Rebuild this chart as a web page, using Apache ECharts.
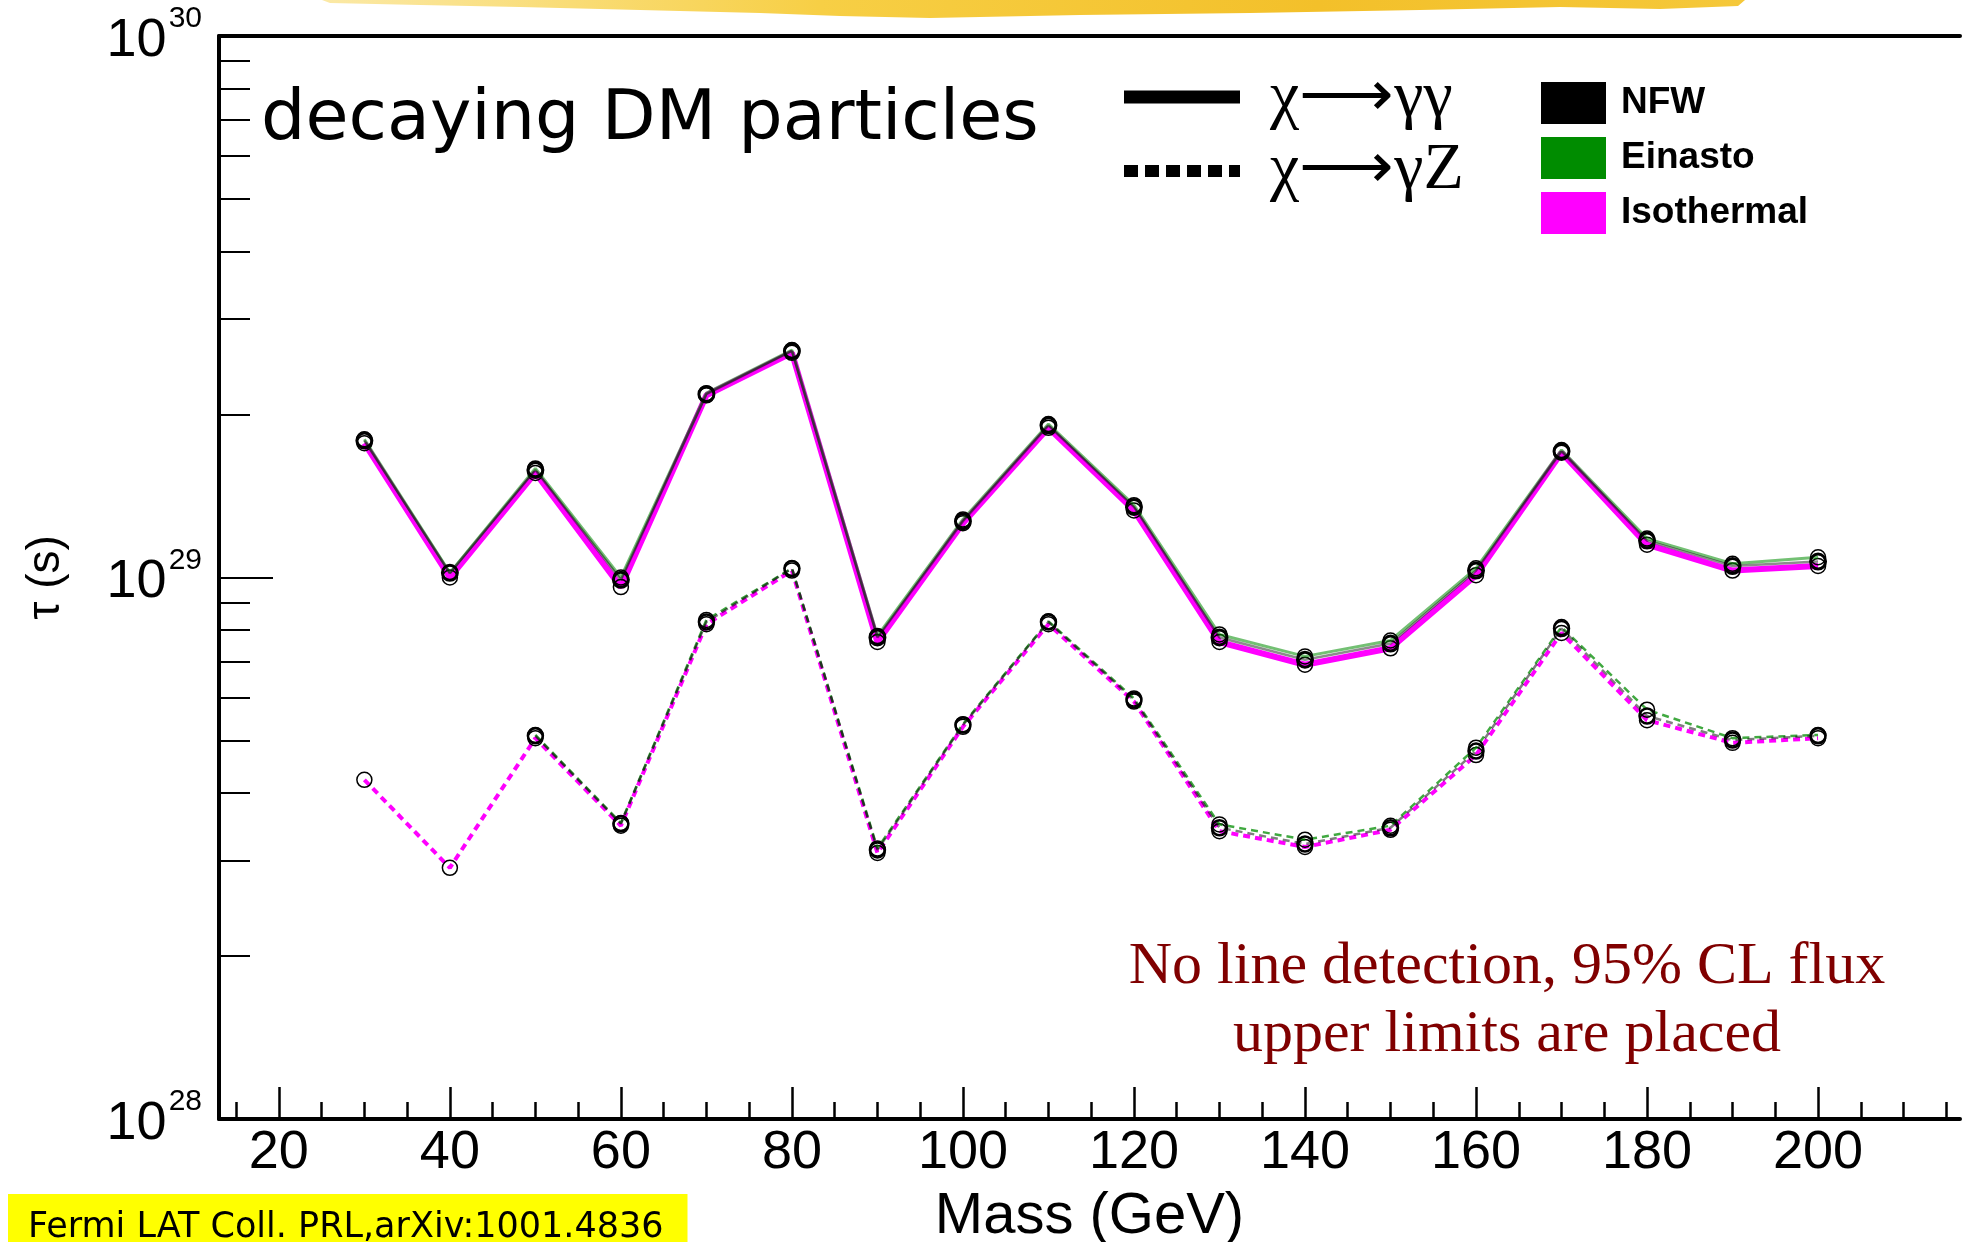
<!DOCTYPE html>
<html>
<head>
<meta charset="utf-8">
<title>Decaying DM lifetime limits</title>
<script src="https://cdn.jsdelivr.net/npm/echarts@6/dist/echarts.min.js"></script>
<style>
  html, body { margin: 0; padding: 0; background: #fff; }
  #chart { width: 1963px; height: 1242px; }
</style>
</head>
<body>
<div id="chart"></div>
<script>
// Dark matter mass (GeV)
const masses = [30, 40, 50, 60, 70, 80, 90, 100, 110, 120, 130, 140, 150, 160, 170, 180, 190, 200];

// Lifetime lower limits tau (s), chi -> gamma gamma
const nfwGG = [1.79e29, 1.02e29, 1.58e29, 0.99e29, 2.18e29, 2.62e29, 0.775e29, 1.27e29, 1.91e29, 1.35e29, 0.775e29, 0.705e29, 0.755e29, 1.03e29, 1.71e29, 1.17e29, 1.05e29, 1.07e29];
const einastoGG = [1.80e29, 1.02e29, 1.59e29, 1.00e29, 2.19e29, 2.63e29, 0.78e29, 1.28e29, 1.92e29, 1.36e29, 0.785e29, 0.715e29, 0.765e29, 1.04e29, 1.72e29, 1.18e29, 1.06e29, 1.09e29];
const isothermalGG = [1.77e29, 1.00e29, 1.56e29, 0.96e29, 2.17e29, 2.60e29, 0.76e29, 1.26e29, 1.89e29, 1.33e29, 0.76e29, 0.69e29, 0.74e29, 1.01e29, 1.70e29, 1.15e29, 1.03e29, 1.05e29];

// Lifetime lower limits tau (s), chi -> gamma Z
const nfwGZ = [null, null, 5.10e28, 3.51e28, 8.28e28, 10.39e28, 3.14e28, 5.34e28, 8.28e28, 5.94e28, 3.45e28, 3.22e28, 3.45e28, 4.78e28, 8.05e28, 5.55e28, 5.01e28, 5.10e28];
const einastoGZ = [null, null, 5.12e28, 3.52e28, 8.35e28, 10.4e28, 3.16e28, 5.36e28, 8.30e28, 5.98e28, 3.50e28, 3.28e28, 3.48e28, 4.85e28, 8.10e28, 5.70e28, 5.05e28, 5.12e28];
const isothermalGZ = [4.23e28, 2.91e28, 5.05e28, 3.48e28, 8.20e28, 10.3e28, 3.10e28, 5.30e28, 8.20e28, 5.90e28, 3.40e28, 3.18e28, 3.42e28, 4.70e28, 7.90e28, 5.45e28, 4.95e28, 5.05e28];

// Axis ticks
const xLabelTicks = [20, 40, 60, 80, 100, 120, 140, 160, 180, 200];
const xMinorTicks = [15, 25, 30, 35, 45, 50, 55, 65, 70, 75, 85, 90, 95, 105, 110, 115, 125, 130, 135, 145, 150, 155, 165, 170, 175, 185, 190, 195, 205, 210, 215];
const yMajorTicks = [1e28, 1e29, 1e30];
const yMinorTicks = [2e28, 3e28, 4e28, 5e28, 6e28, 7e28, 8e28, 9e28, 2e29, 3e29, 4e29, 5e29, 6e29, 7e29, 8e29, 9e29];

const profileNames = ['NFW', 'Einasto', 'Isothermal'];
const profileColors = ['#000000', '#008c00', '#ff00ff'];

const pairs = (ys) => masses.map((m, i) => [m, ys[i]]);

const chart = echarts.init(document.getElementById('chart'), null, { renderer: 'canvas' });

const markerStyle = (bw) => ({
  color: 'rgba(0,0,0,0)',
  borderColor: '#000',
  borderWidth: bw
});

function lineSeries(name, ys, color, width, dashed, opacity, markerBw, z) {
  return {
    name: name,
    type: 'line',
    xAxisIndex: 0,
    yAxisIndex: 0,
    data: pairs(ys),
    connectNulls: false,
    symbol: 'circle',
    symbolSize: 15,
    showSymbol: true,
    itemStyle: markerStyle(markerBw),
    lineStyle: {
      color: color,
      width: width,
      opacity: opacity,
      type: dashed ? [7, 5] : 'solid'
    },
    emphasis: { disabled: true },
    animation: false,
    z: z
  };
}

const series = [
  lineSeries('Isothermal', isothermalGG, profileColors[2], 6, false, 1, 1.5, 2),
  lineSeries('Einasto', einastoGG, profileColors[1], 3, false, 0.55, 1.5, 3),
  lineSeries('NFW', nfwGG, profileColors[0], 2.5, false, 0.45, 3, 4),
  lineSeries('Isothermal', isothermalGZ, profileColors[2], 4, true, 1, 1.5, 2),
  lineSeries('Einasto', einastoGZ, profileColors[1], 2.5, true, 0.75, 1.5, 3),
  lineSeries('NFW', nfwGZ, profileColors[0], 2.5, true, 0.5, 2.5, 4)
];

// Horizontal range of the frame; vertical range is two decades
const X_MIN = 13, X_MAX = 216.6;
const Y_MIN = 1e28, Y_MAX = 1.000001e30;

const option = {
  backgroundColor: '#ffffff',
  animation: false,
  grid: { left: 219, top: 36, right: 3, bottom: 123, containLabel: false, outerBoundsMode: 'none' },
  title: [
    {
      text: 'decaying DM particles',
      left: 256, top: 81,
      textStyle: { fontFamily: 'DejaVu Sans', fontSize: 70, fontWeight: 'normal', color: '#000' }
    },
    {
      text: 'No line detection, 95% CL flux\nupper limits are placed',
      left: 1502, top: 928,
      textAlign: 'center',
      textStyle: { fontFamily: 'Liberation Serif', fontSize: 60, fontWeight: 'normal', color: '#800000', lineHeight: 68, align: 'center' }
    },
    {
      text: 'Fermi LAT Coll. PRL,arXiv:1001.4836',
      left: 8, top: 1194,
      padding: [16, 24, 20, 20],
      backgroundColor: '#ffff00',
      textStyle: { fontFamily: 'DejaVu Sans', fontSize: 35, fontWeight: 'normal', color: '#000' }
    }
  ],
  legend: {
    orient: 'vertical',
    left: 1536, top: 77,
    itemWidth: 65, itemHeight: 42, itemGap: 13,
    icon: 'rect',
    selectedMode: false,
    textStyle: { fontFamily: 'Liberation Sans', fontSize: 37, fontWeight: 'bold', color: '#000', padding: [0, 0, 0, 10] },
    data: profileNames.map((n, i) => ({
      name: n,
      icon: 'rect',
      itemStyle: { color: profileColors[i], borderWidth: 0, opacity: 1 },
      lineStyle: { width: 0 }
    }))
  },
  xAxis: [
    {
      type: 'value', position: 'bottom', min: X_MIN, max: X_MAX,
      name: 'Mass (GeV)', nameLocation: 'middle', nameGap: 69,
      nameTextStyle: { fontFamily: 'Liberation Sans', fontSize: 58, color: '#000' },
      axisLine: { show: true, onZero: false, lineStyle: { color: '#000', width: 4 } },
      axisTick: { show: true, inside: true, length: 17, customValues: xMinorTicks, lineStyle: { color: '#000', width: 2.5 } },
      axisLabel: { show: true, customValues: xLabelTicks, margin: 7, fontFamily: 'Liberation Sans', fontSize: 54, color: '#000' },
      splitLine: { show: false }
    },
    {
      type: 'value', position: 'bottom', min: X_MIN, max: X_MAX,
      axisLine: { show: false, onZero: false },
      axisTick: { show: true, inside: true, length: 32, customValues: xLabelTicks, lineStyle: { color: '#000', width: 2.5 } },
      axisLabel: { show: false },
      splitLine: { show: false }
    },
    {
      type: 'value', position: 'top', min: X_MIN, max: X_MAX,
      axisLine: { show: true, onZero: false, lineStyle: { color: '#000', width: 4 } },
      axisTick: { show: false },
      axisLabel: { show: false },
      splitLine: { show: false }
    }
  ],
  yAxis: [
    {
      type: 'log', logBase: 10, position: 'left', min: Y_MIN, max: Y_MAX,
      name: 'τ (s)', nameLocation: 'middle', nameGap: 150, nameRotate: 90,
      nameTextStyle: { fontFamily: 'Liberation Sans', fontSize: 46, color: '#000' },
      axisLine: { show: true, onZero: false, lineStyle: { color: '#000', width: 4 } },
      axisTick: { show: true, inside: true, length: 54, customValues: yMajorTicks, lineStyle: { color: '#000', width: 2 } },
      axisLabel: {
        show: true, customValues: yMajorTicks, margin: 17,
        showMinLabel: true, showMaxLabel: true, hideOverlap: false,
        formatter: (v) => '{b|10}{s|' + Math.round(Math.log10(v)) + '}',
        rich: {
          b: { fontFamily: 'Liberation Sans', fontSize: 54, color: '#000', lineHeight: 64, verticalAlign: 'bottom' },
          s: { fontFamily: 'Liberation Sans', fontSize: 30, color: '#000', verticalAlign: 'top', padding: [0, 0, 0, 2] }
        }
      },
      splitLine: { show: false }
    },
    {
      type: 'log', logBase: 10, position: 'left', min: Y_MIN, max: Y_MAX,
      axisLine: { show: false, onZero: false },
      axisTick: { show: true, inside: true, length: 31, customValues: yMinorTicks, lineStyle: { color: '#000', width: 2 } },
      axisLabel: { show: false },
      splitLine: { show: false }
    }
  ],
  graphic: [
    // yellow brush stroke along the top of the slide
    {
      type: 'polygon',
      z: 0,
      shape: {
        points: [[322, 0], [1745, 0], [1738, 6], [1660, 9], [1560, 7], [1420, 10], [1250, 13], [1080, 15], [930, 18], [840, 16], [760, 13], [640, 10], [520, 7], [420, 5], [330, 3]]
      },
      style: {
        fill: {
          type: 'linear', x: 0, y: 0, x2: 1, y2: 0,
          colorStops: [
            { offset: 0, color: '#fbe9a6' },
            { offset: 0.35, color: '#f7cf45' },
            { offset: 0.7, color: '#f3c02a' },
            { offset: 1, color: '#f5c83a' }
          ]
        }
      }
    },
    // line style key: chi -> gamma gamma (solid) and chi -> gamma Z (dashed)
    {
      type: 'line', z: 10,
      shape: { x1: 1124, y1: 97, x2: 1240, y2: 97 },
      style: { stroke: '#000', lineWidth: 13 }
    },
    {
      type: 'line', z: 10,
      shape: { x1: 1124, y1: 171, x2: 1240, y2: 171 },
      style: { stroke: '#000', lineWidth: 12, lineDash: [14, 7] }
    },
    {
      type: 'text', z: 10, left: 1270, top: 66,
      style: { text: 'χ⟶γγ', font: '66px "Liberation Serif"', fill: '#000' }
    },
    {
      type: 'text', z: 10, left: 1270, top: 138,
      style: { text: 'χ⟶γZ', font: '66px "Liberation Serif"', fill: '#000' }
    }
  ],
  series: series
};

chart.setOption(option);
</script>
</body>
</html>
